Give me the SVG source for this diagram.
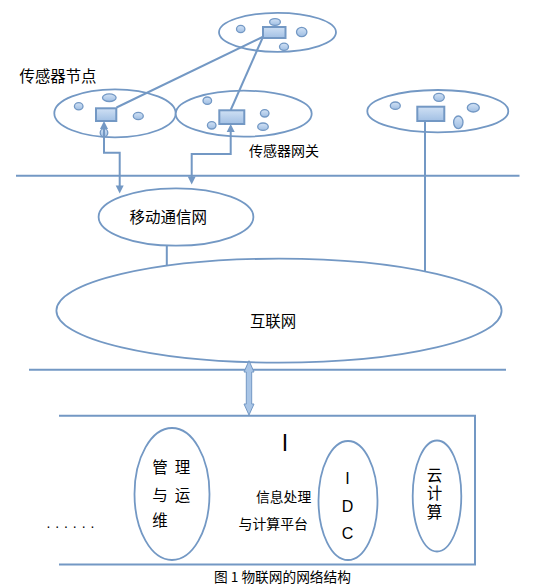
<svg xmlns="http://www.w3.org/2000/svg" width="537" height="587" viewBox="0 0 537 587">
<defs>
<linearGradient id="gs" x1="0" y1="0" x2="0" y2="1"><stop offset="0" stop-color="#d2e2f5"/><stop offset="1" stop-color="#9fbee3"/></linearGradient>
<linearGradient id="gr" x1="0" y1="0" x2="0" y2="1"><stop offset="0" stop-color="#cfe0f4"/><stop offset="1" stop-color="#a2c0e4"/></linearGradient>
</defs>
<style>
.big{fill:#fff;stroke:#7398c4;stroke-width:1.8}
.s{fill:url(#gs);stroke:#7398c4;stroke-width:1.3}
.r{fill:url(#gr);stroke:#7398c4;stroke-width:2}
.ln{fill:none;stroke:#7398c4;stroke-width:2}
.ah{fill:#7398c4}
.t{font-family:"Noto Sans CJK SC","Noto Sans",sans-serif;fill:#000}
.l{font-family:"Liberation Sans",Arial,sans-serif;fill:#000}
</style>
<rect width="537" height="587" fill="#fff"/>

<g id="cluster-top">
<ellipse class="big" cx="277.5" cy="32.3" rx="58.5" ry="19.5"/>
<ellipse class="s" cx="240.7" cy="29" rx="4.2" ry="3.6"/>
<ellipse class="s" cx="275" cy="22" rx="5.4" ry="3.4"/>
<ellipse class="s" cx="284" cy="46.7" rx="4.5" ry="3.6"/>
<ellipse class="s" cx="301.7" cy="32" rx="5.2" ry="4.6"/>
<rect class="r" x="263" y="27" width="22.5" height="11"/>
</g>

<g id="cluster-left">
<ellipse class="big" cx="115" cy="113.3" rx="60.7" ry="24"/>
<ellipse class="s" cx="78.7" cy="106.3" rx="4.3" ry="3.6"/>
<ellipse class="s" cx="109.3" cy="97.7" rx="6.8" ry="3.8"/>
<ellipse class="s" cx="138.3" cy="116" rx="5" ry="3.6"/>
<ellipse class="s" cx="104" cy="132.7" rx="3.8" ry="4"/>
<rect class="r" x="96" y="108.3" width="20.3" height="12.7"/>
</g>

<g id="cluster-middle">
<ellipse class="big" cx="243.7" cy="113.7" rx="68" ry="23"/>
<ellipse class="s" cx="207.3" cy="100.7" rx="4.3" ry="3.7"/>
<ellipse class="s" cx="211.7" cy="125.3" rx="4.3" ry="3.7"/>
<ellipse class="s" cx="264.7" cy="113.3" rx="4.3" ry="3.7"/>
<ellipse class="s" cx="263" cy="126.7" rx="5.3" ry="3.7"/>
<rect class="r" x="219.3" y="110.3" width="25" height="13.7"/>
</g>

<g id="cluster-right">
<ellipse class="big" cx="437.8" cy="111.2" rx="70.5" ry="21.2"/>
<ellipse class="s" cx="395.3" cy="105.7" rx="5" ry="3.7"/>
<ellipse class="s" cx="439" cy="97.3" rx="5.3" ry="4"/>
<ellipse class="s" cx="473.3" cy="107.7" rx="6" ry="4.3"/>
<ellipse class="s" cx="458.3" cy="122.3" rx="4.7" ry="6.3"/>
<rect class="r" x="417.3" y="106.7" width="27" height="14.3"/>
</g>

<g id="connectors">
<line class="ln" x1="116.5" y1="107.5" x2="262.5" y2="37"/>
<line class="ln" x1="230.7" y1="110" x2="262.5" y2="38"/>
<path class="ln" d="M104,126 V152.7 H119.7 V187"/>
<polygon class="ah" points="104,121 108,129 100,129"/>
<polygon class="ah" points="119.7,193.5 115.7,185.5 123.7,185.5"/>
<path class="ln" d="M230.7,129 V154 H191.7 V178"/>
<polygon class="ah" points="230.7,124 234.7,132 226.7,132"/>
<polygon class="ah" points="191.7,184.5 187.7,176.5 195.7,176.5"/>
<line class="ln" x1="425" y1="121" x2="425" y2="272"/>
<line class="ln" x1="166.8" y1="245.7" x2="166.8" y2="268"/>
<line class="ln" x1="16" y1="175.7" x2="519.5" y2="175.7"/>
<line class="ln" x1="29" y1="369.7" x2="506" y2="369.7"/>
</g>

<g id="label-node"><text class="t" x="19.5" y="82" font-size="15.4">传感器节点</text></g>
<g id="label-gateway"><text class="t" x="249" y="156" font-size="14">传感器网关</text></g>

<g id="mobile">
<ellipse class="big" cx="176" cy="217" rx="77.4" ry="28.7"/>
<text class="t" x="168.3" y="222.6" font-size="15.5" text-anchor="middle">移动通信网</text>
</g>

<g id="internet">
<ellipse class="big" cx="279" cy="310.7" rx="222.6" ry="52"/>
<text class="t" x="273" y="326.6" font-size="15.4" text-anchor="middle">互联网</text>
</g>

<g id="link-arrow">
<polygon points="249,360.7 254,372 251.7,372 251.7,404 254,404 249,415 244,404 246.3,404 246.3,372 244,372" fill="#a9c5e6" stroke="#7398c4" stroke-width="1"/>
</g>

<g id="platform">
<path class="ln" d="M59,415.8 H475 V564.5 H59"/>
<text class="l" x="285" y="450.7" font-size="23" text-anchor="middle">I</text>
<text class="t" x="256" y="502" font-size="13.8">信息处理</text>
<text class="t" x="238.5" y="529.3" font-size="13.9">与计算平台</text>
<text class="l" x="46.5" y="528" font-size="14" letter-spacing="4.9">......</text>
</g>

<g id="management">
<ellipse class="big" cx="172" cy="494" rx="37.5" ry="66"/>
<g class="t" font-size="15.5" text-anchor="middle">
<text x="160" y="473.2">管</text><text x="182.4" y="473.2">理</text>
<text x="160" y="500.9">与</text><text x="182.4" y="500.9">运</text>
<text x="160" y="525.9">维</text>
</g>
</g>

<g id="idc">
<ellipse class="big" cx="348" cy="500.5" rx="29.5" ry="59.5"/>
<g class="l" font-size="16" text-anchor="middle">
<text x="347.6" y="484">I</text><text x="347.6" y="511.5">D</text><text x="347.6" y="539">C</text>
</g>
</g>

<g id="cloud">
<ellipse class="big" cx="437" cy="496" rx="24.3" ry="55.5"/>
<text class="t" x="434.5" y="467.3" font-size="15.5" writing-mode="vertical-rl" letter-spacing="2.8">云计算</text>
</g>

<g id="caption"><text class="t" x="214" y="582" font-size="13.7">图 1 物联网的网络结构</text></g>
</svg>
